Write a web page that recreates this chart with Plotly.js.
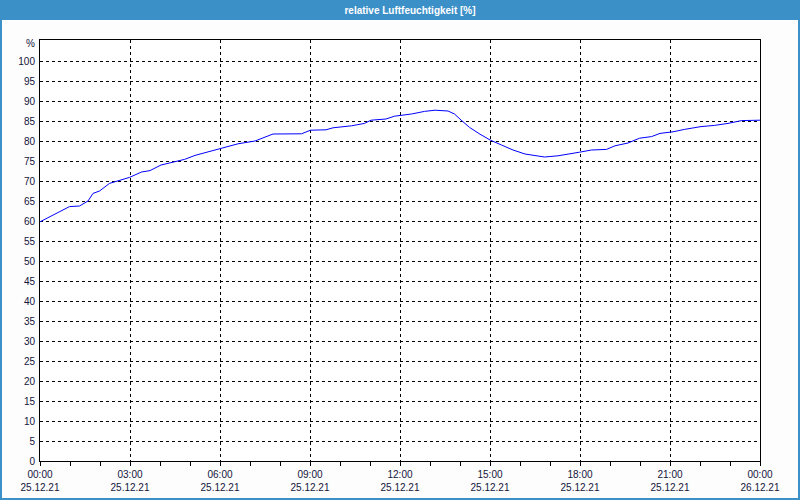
<!DOCTYPE html>
<html>
<head>
<meta charset="utf-8">
<script src="https://cdn.plot.ly/plotly-3.0.1.min.js"></script>
<style>html,body{margin:0;padding:0;background:#fcfdfc;}#chart{width:800px;height:500px;}</style>
</head>
<body>
<div id="chart"></div>
<script>
// Timestamps (25.12.21) and relative humidity values [%]
const times = [
"2021-12-25 00:00","2021-12-25 00:16","2021-12-25 00:36","2021-12-25 00:59","2021-12-25 01:19","2021-12-25 01:36",
"2021-12-25 01:46","2021-12-25 01:59","2021-12-25 02:19","2021-12-25 02:40","2021-12-25 02:59","2021-12-25 03:23",
"2021-12-25 03:40","2021-12-25 04:02","2021-12-25 04:29","2021-12-25 04:49","2021-12-25 05:10","2021-12-25 05:36",
"2021-12-25 05:59","2021-12-25 06:36","2021-12-25 07:10","2021-12-25 07:36","2021-12-25 07:46","2021-12-25 08:43",
"2021-12-25 09:01","2021-12-25 09:32","2021-12-25 09:46","2021-12-25 10:23","2021-12-25 10:49","2021-12-25 11:02",
"2021-12-25 11:32","2021-12-25 11:49","2021-12-25 12:23","2021-12-25 12:49","2021-12-25 13:10","2021-12-25 13:36",
"2021-12-25 13:49","2021-12-25 14:02","2021-12-25 14:19","2021-12-25 14:40","2021-12-25 15:01","2021-12-25 15:23",
"2021-12-25 15:46","2021-12-25 16:10","2021-12-25 16:29","2021-12-25 16:49","2021-12-25 17:16","2021-12-25 17:40",
"2021-12-25 17:59","2021-12-25 18:23","2021-12-25 18:53","2021-12-25 19:10","2021-12-25 19:36","2021-12-25 19:59",
"2021-12-25 20:23","2021-12-25 20:40","2021-12-25 21:06","2021-12-25 21:29","2021-12-25 22:02","2021-12-25 22:29",
"2021-12-25 22:56","2021-12-25 23:23","2021-12-25 23:46","2021-12-26 00:00"
];
const humidity = [
59.8,60.8,62.1,63.6,63.75,65.0,
66.9,67.5,69.4,70.1,70.9,72.25,
72.6,74.0,74.75,75.4,76.4,77.25,
78.1,79.3,80.0,81.2,81.75,81.8,
82.7,82.8,83.3,83.8,84.4,85.2,
85.5,86.2,86.75,87.4,87.7,87.5,
86.75,85.25,83.4,81.7,80.2,79.0,
77.75,76.75,76.3,76.0,76.3,76.9,
77.2,77.75,77.9,78.8,79.5,80.7,
81.1,81.9,82.3,82.9,83.6,83.9,
84.4,85.1,85.2,85.2
];
const tickTimes = ["2021-12-25 00:00","2021-12-25 03:00","2021-12-25 06:00","2021-12-25 09:00","2021-12-25 12:00","2021-12-25 15:00","2021-12-25 18:00","2021-12-25 21:00","2021-12-26 00:00"];
const tickHours = ["00:00","03:00","06:00","09:00","12:00","15:00","18:00","21:00","00:00"];
const tickDates = ["25.12.21","25.12.21","25.12.21","25.12.21","25.12.21","25.12.21","25.12.21","25.12.21","26.12.21"];
const yTicks = [0,5,10,15,20,25,30,35,40,45,50,55,60,65,70,75,80,85,90,95,100];
const tickText = tickHours.map((h,i)=>h+"<br>"+tickDates[i]);

const BLUE = "#3b90c8";
const TXT = "#14143c";
const FONT = "Liberation Sans, Arial, sans-serif";
// pixel -> paper helpers (plot area: x 40..760, y 40..461)
const px = v => (v-40)/720;
const py = v => (461-v)/421;

const trace = {x: times, y: humidity, type: "scatter", mode: "lines",
  line: {color: "#0000ff", width: 1}, hoverinfo: "skip"};

const layout = {
  width: 800, height: 500,
  margin: {l: 40, r: 40, t: 40, b: 39, pad: 0},
  paper_bgcolor: "#fcfdfc", plot_bgcolor: "#ffffff",
  showlegend: false,
  font: {family: FONT, size: 10, color: TXT},
  title: {text: "<b>relative Luftfeuchtigkeit [%]</b>", x: 410/800, xanchor: "center",
          y: 1-10/500, yanchor: "middle", yref: "container",
          font: {family: FONT, size: 10, color: "#ffffff"}},
  xaxis: {type: "date", range: ["2021-12-25 00:00","2021-12-26 00:00"],
    tickmode: "array", tickvals: tickTimes, ticktext: tickText,
    ticks: "outside", ticklen: 4, tickcolor: "rgba(0,0,0,0)",
    showgrid: true, gridcolor: "#000000", gridwidth: 1, griddash: "3px,3px",
    showline: true, linecolor: "#000000", linewidth: 1, mirror: true,
    zeroline: false, tickfont: {family: FONT, size: 10, color: TXT},
    minor: {dtick: 3600000, ticks: "outside", ticklen: 4, tickcolor: "#000000", showgrid: false}},
  yaxis: {range: [0, 105.25], tickmode: "array", tickvals: yTicks,
    ticks: "outside", ticklen: 2, tickcolor: "rgba(0,0,0,0)",
    showgrid: true, gridcolor: "#000000", gridwidth: 1, griddash: "3px,3px",
    showline: true, linecolor: "#000000", linewidth: 1, mirror: true,
    zeroline: false, tickfont: {family: FONT, size: 10, color: TXT}},
  annotations: [{text: "%", xref: "paper", x: 0, xanchor: "right", xshift: -3,
    yref: "y", y: 104.3, yanchor: "middle", showarrow: false,
    font: {family: FONT, size: 10, color: TXT}}],
  shapes: [
    {type: "rect", xref: "paper", yref: "paper", x0: px(0), x1: px(800), y0: py(20), y1: py(0),
     fillcolor: BLUE, line: {width: 0}, layer: "below"},
    {type: "rect", xref: "paper", yref: "paper", x0: px(1), x1: px(799), y0: py(499), y1: py(1),
     fillcolor: "rgba(0,0,0,0)", line: {color: BLUE, width: 2}, layer: "above"}
  ]
};
Plotly.newPlot("chart", [trace], layout, {staticPlot: true, displayModeBar: false});
</script>
</body>
</html>
